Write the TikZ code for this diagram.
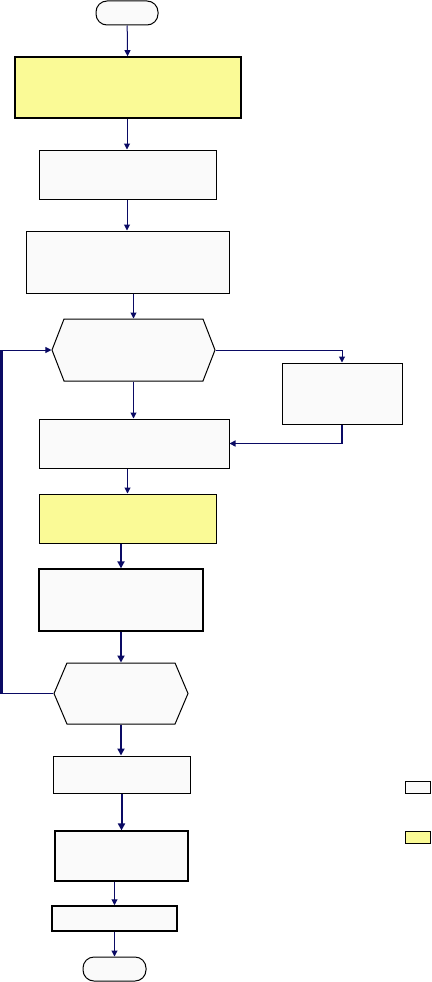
\documentclass[tikz,border=0pt]{standalone}
\usetikzlibrary{shapes.symbols,arrows.meta}
\definecolor{boxfill}{RGB}{250,250,250}
\definecolor{hiyel}{RGB}{250,250,150}
\definecolor{navy}{RGB}{10,10,100}
\tikzset{
  procbox/.style={draw=black,fill=boxfill,line width=1pt,inner sep=0pt,minimum width=#1},
  yelbox/.style={procbox=#1,fill=hiyel},
  term/.style={draw=black,fill=boxfill,line width=1pt,inner sep=0pt,rounded corners=11pt},
  hexa/.style={draw=black,fill=boxfill,line width=1pt,inner sep=0pt,shape=signal,signal to=east and west},
  conn/.style={draw=navy,line width=1pt,-{Triangle[length=6pt,width=6pt]}},
  thickconn/.style={conn,line width=2pt,-{Triangle[length=7pt,width=7pt]}},
}
\begin{document}
\begin{tikzpicture}[x=1pt,y=-1pt]
\useasboundingbox (0,0) rectangle (431,982);
\node[term,minimum width=62pt,minimum height=24pt] (start) at (127,13) {};
\node[yelbox=226pt,minimum height=61pt,line width=1.6pt] (b1) at (128,87.5) {};
\node[procbox=177pt,minimum height=49pt] (b2) at (127.5,174.5) {};
\node[procbox=203pt,minimum height=62pt] (b3) at (127.5,262) {};
\node[hexa,minimum width=163pt,minimum height=62pt,signal pointer angle=137.6] (h1) at (133.5,350) {};
\node[procbox=120pt,minimum height=61pt] (r) at (342,393.5) {};
\node[procbox=190pt,minimum height=49pt] (b4) at (134,443.5) {};
\node[yelbox=177pt,minimum height=49pt] (b5) at (127.5,518.5) {};
\node[procbox=164pt,minimum height=62pt,line width=1.3pt] (b6) at (121,600) {};
\node[hexa,minimum width=134pt,minimum height=61pt,signal pointer angle=134] (h2) at (121,693.5) {};
\node[procbox=137pt,minimum height=37pt] (b7) at (121.5,774.5) {};
\node[procbox=133pt,minimum height=50pt,line width=1.15pt] (b8) at (121.5,856) {};
\node[procbox=125pt,minimum height=25pt,line width=1.5pt] (b9) at (114.5,918.5) {};
\node[term,minimum width=63pt,minimum height=24pt] (end) at (114.5,969) {};
\node[procbox=25pt,minimum height=12pt] (lg1) at (417.5,787) {};
\node[yelbox=25pt,minimum height=12pt] (lg2) at (417.5,837) {};
\coordinate (lp) at (1.3,350);
\draw[conn] (start) -- (b1);
\draw[conn] (b1.south -| start.south) -- (b2.north -| start.south);
\draw[conn] (b2.south -| start.south) -- (b3.north -| start.south);
\draw[conn] (h1.north |- b3.south) -- (h1.north);
\draw[conn] (h1.south) -- (h1.south |- b4.north);
\draw[conn] (h1.east) -| (r.north);
\draw[conn,line width=1.6pt] (r.south) |- (b4.east);
\draw[conn] (b5.north |- b4.south) -- (b5.north);
\draw[thickconn] (b6.north |- b5.south) -- (b6.north);
\draw[thickconn] (b6.south) -- (h2.north);
\draw[thickconn] (h2.south) -- (h2.south |- b7.north);
\draw[thickconn] (b7.south) -- (b7.south |- b8.north);
\draw[conn] (b9.north |- b8.south) -- (b9.north);
\draw[conn] (b9.south) -- (end.north);
\draw[conn] (h2.west) -| (lp) -- (h1.west);
\draw[navy,line width=2.5pt] (lp) -- (lp |- h2.west);
\end{tikzpicture}
\end{document}
